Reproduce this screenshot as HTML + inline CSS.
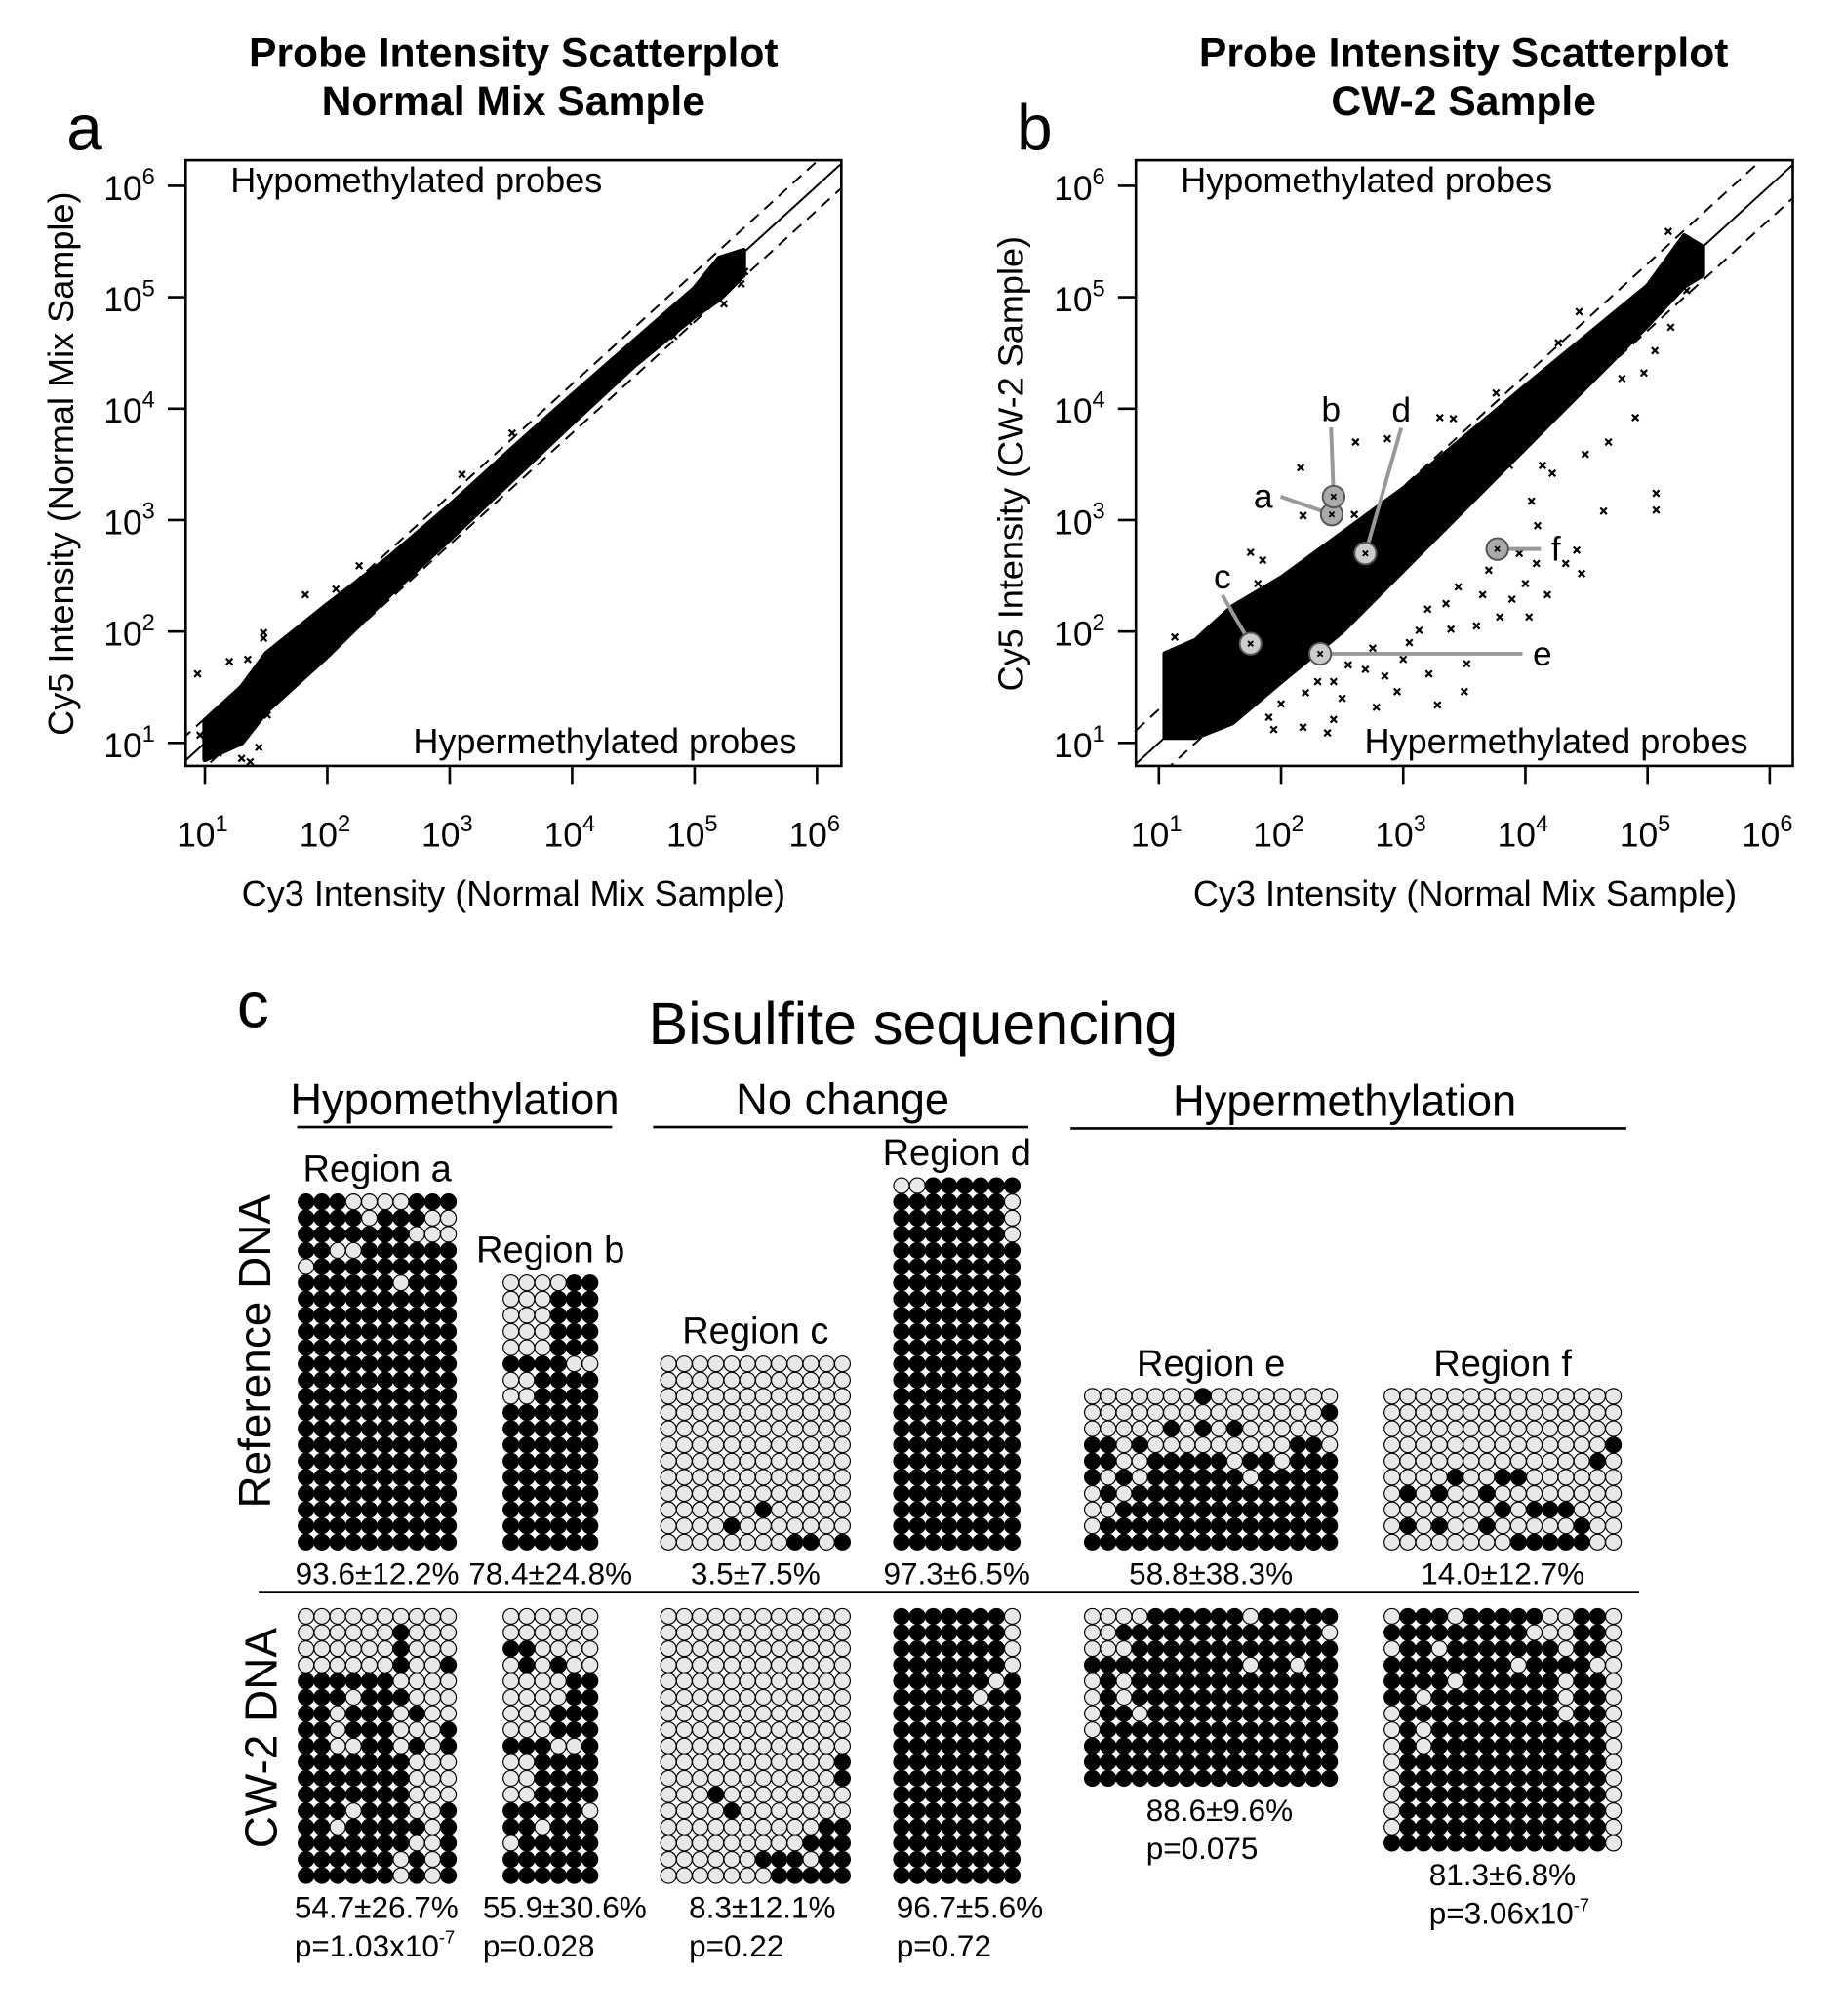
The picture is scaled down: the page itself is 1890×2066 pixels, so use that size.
<!DOCTYPE html>
<html><head><meta charset="utf-8"><style>
html,body{margin:0;padding:0;background:#fff;}
svg{display:block;font-family:"Liberation Sans",Arial,sans-serif;}
</style></head><body>
<svg id="fig" width="1890" height="2066" viewBox="0 0 1440 1574" xmlns="http://www.w3.org/2000/svg">
<defs>
<clipPath id="clipA"><rect x="145" y="125" width="512" height="473"/></clipPath>
<clipPath id="clipB"><rect x="887" y="125" width="513" height="473"/></clipPath>
</defs>
<g>
<text x="401" y="52" font-size="32.5" font-weight="bold" text-anchor="middle">Probe Intensity Scatterplot</text>
<text x="401" y="90" font-size="32.5" font-weight="bold" text-anchor="middle">Normal Mix Sample</text>
<text x="52" y="117" font-size="50">a</text>
<text x="401" y="707" font-size="27.5" text-anchor="middle">Cy3 Intensity (Normal Mix Sample)</text>
<text transform="translate(57,362) rotate(-90)" font-size="27.5" text-anchor="middle">Cy5 Intensity (Normal Mix Sample)</text>
<g id="plotA" clip-path="url(#clipA)"></g>
<g id="axesA"></g>
<text x="180" y="150" font-size="27.5">Hypomethylated probes</text>
<text x="622" y="588" font-size="27.5" text-anchor="end">Hypermethylated probes</text>
</g>
<g>
<text x="1143" y="52" font-size="32.5" font-weight="bold" text-anchor="middle">Probe Intensity Scatterplot</text>
<text x="1143" y="90" font-size="32.5" font-weight="bold" text-anchor="middle">CW-2 Sample</text>
<text x="794" y="117" font-size="50">b</text>
<text x="1144" y="707" font-size="27.5" text-anchor="middle">Cy3 Intensity (Normal Mix Sample)</text>
<text transform="translate(799,362) rotate(-90)" font-size="27.5" text-anchor="middle">Cy5 Intensity (CW-2 Sample)</text>
<g id="plotB" clip-path="url(#clipB)"></g>
<g id="axesB"></g>
<g id="annB"></g>
<text x="922" y="150" font-size="27.5">Hypomethylated probes</text>
<text x="1365" y="588" font-size="27.5" text-anchor="end">Hypermethylated probes</text>
</g>
<g>
<text x="185" y="802" font-size="50">c</text>
<text x="713" y="815" font-size="46.5" text-anchor="middle">Bisulfite sequencing</text>
<text x="355" y="870" font-size="34.5" text-anchor="middle">Hypomethylation</text>
<line x1="232" y1="880" x2="478" y2="880" stroke="#000" stroke-width="2"/>
<text x="658" y="870" font-size="34.5" text-anchor="middle">No change</text>
<line x1="510" y1="880" x2="803" y2="880" stroke="#000" stroke-width="2"/>
<text x="1050" y="871" font-size="34.5" text-anchor="middle">Hypermethylation</text>
<line x1="836" y1="881" x2="1270" y2="881" stroke="#000" stroke-width="2"/>
<text transform="translate(211,1055) rotate(-90)" font-size="35" text-anchor="middle">Reference DNA</text>
<text transform="translate(216,1357) rotate(-90)" font-size="35" text-anchor="middle">CW-2 DNA</text>
<line x1="202" y1="1243" x2="1280" y2="1243" stroke="#000" stroke-width="2"/>
<g id="grids"></g>
<g id="gridText" font-size="24"></g>
</g>
</svg>
<script>
// ---------- Panel a data (log10 space) ----------
const aBandX = [1.0,1.3,1.5,2.0,2.5,3.0,3.5,4.0,4.5,5.0,5.2,5.4];
const aBandHi = [1.2,1.5,1.8,2.24,2.66,3.13,3.63,4.12,4.6,5.08,5.35,5.42];
const aBandLo = [0.85,1.0,1.28,1.78,2.32,2.83,3.35,3.87,4.38,4.83,4.98,5.2];
const aOutX = [0.94,1.48,1.48,1.82,1.20,1.35,0.96,1.11,1.30,1.37,1.44,1.24,1.18,1.06,1.39,1.51,5.41,5.24,5.38,4.95,4.83,3.51,3.10,2.26,2.07,1.02,1.08,1.15,1.26,1.33];
const aOutY = [1.62,1.99,1.94,2.33,1.73,1.75,1.07,0.91,0.86,0.83,0.96,1.04,1.17,0.99,1.33,1.25,5.23,4.94,5.12,4.78,4.65,3.78,3.41,2.59,2.38,1.15,1.22,0.95,1.30,1.12];
// ---------- Panel b data ----------
const bBandX = [1.05,1.3,1.6,2.0,2.5,3.0,3.5,4.0,4.5,5.0,5.3,5.45];
const bBandHi = [1.8,1.92,2.22,2.48,2.88,3.28,3.74,4.2,4.65,5.1,5.55,5.45];
const bBandLo = [1.05,1.05,1.18,1.55,2.0,2.55,3.1,3.65,4.2,4.75,5.1,5.2];
const bOutX = [2.16,2.61,2.87,5.07,5.07,4.64,4.90,4.68,4.49,4.09,4.33,4.46,4.42,4.18,4.00,3.89,4.03,3.79,3.52,3.50,3.28,3.21,2.95,2.78,2.43,2.38,2.18,1.94,1.90,2.43,2.69,3.13,3.39,3.65,4.05,3.87,4.14,4.22,4.97,4.79,5.06,5.19,5.32,5.17,1.13,1.75,1.85,1.81,2.18,2.60,3.30,3.41,3.76,4.27,4.44,2.30,2.55,2.75,3.00,3.20,3.45,3.60,3.70,3.95,4.10,2.00,2.20,2.50,2.85,3.05,3.35];
const bOutY = [3.47,3.70,3.73,3.24,3.09,3.08,3.92,3.70,3.59,2.61,2.61,2.52,2.73,2.33,2.43,2.29,2.13,2.13,1.71,1.46,1.34,1.62,1.46,1.32,1.21,1.09,1.14,1.12,1.23,1.55,1.66,2.01,2.02,2.33,3.17,3.49,3.49,3.42,4.32,4.27,4.52,4.73,5.06,5.59,1.95,2.71,2.64,2.43,3.04,3.05,3.92,3.91,4.14,4.59,4.87,1.55,1.70,1.85,1.75,2.20,2.40,2.05,2.55,2.70,2.95,1.35,1.45,1.40,1.60,1.90,2.25];
const bRegionNames = ["a","b","c","d","e","f"];
const bRegionX = [2.415,2.43,1.75,2.69,2.32,3.77];
const bRegionY = [3.05,3.21,1.89,2.70,1.80,2.74];
const tickExp = [1,2,3,4,5,6];

// ---------- Bisulfite grid data ----------
const refA = ["1110000111","1111011100","1111111000","1100111111","0111111111","1111110111"].concat(Array(16).fill("1111111111"));
const refB = ["000011","000111","000111","000111","000111","111100","001111","001111"].concat(Array(9).fill("111111"));
const refC = Array(9).fill("000000000000").concat(["000000100000","000010000000","000000001101"]);
const refD = ["00111111","11111110","11111110","11111110"].concat(Array(19).fill("11111111"));
const refE = ["0000000100000000","0000000000000001","0000010101000000","1101000000000110","1100111110110111","1010111111011111","0101111111111111","0011111111111111","0111111111111111","1111111111111111"];
const refF = ["000000000000000","000000000000000","000000000000000","000000000000001","000000000000010","000010011000000","010100100000000","000000010111000","010100100000100","000000001111100"];
const cwA = ["0000000000","0000001000","0000001000","0000001001","1111110000","1110111000","1101110100","1101110001","1100110101","1111111000","1111111000","1111111000","1110111001","1101111101","1111111001","1111110101","1111110101"];
const cwB = ["000000","000000","110000","010100","000011","000011","000111","000111","111001","001111","001111","001111","111110","110111","011111","111111","111111"];
const cwC = Array(9).fill("000000000000").concat(["000000000001","000000000001","000100000000","000010000000","000000000011","000000000111","000000111011","000000011111"]);
const cwD = ["11111110","11111110","11111110","11111110","11111101","11111011"].concat(Array(11).fill("11111111"));
const cwE = ["0000111111011111","0011111111111110","0001111111111111","1111111111011011","0101111111111111","0101111111111111","0110111111111111","0111111111111111","1111111111111111","1111111111111111","1111111111111111"];
const cwF = ["011101111100110","111111111000110","011011111110110","111111110111100","111101111110110","110111111110110","011111111110110","010111111111110","010111111111110","011111111111110","011111111111110","011111111111110","011111111111110","011111111111110","111111111111110"];
const refPct = ["93.6±12.2%","78.4±24.8%","3.5±7.5%","97.3±6.5%","58.8±38.3%","14.0±12.7%"];
const cwPct = ["54.7±26.7%","55.9±30.6%","8.3±12.1%","96.7±5.6%","88.6±9.6%","81.3±6.8%"];
const cwP = ["p=1.03x10","p=0.028","p=0.22","p=0.72","p=0.075","p=3.06x10"];
const regionLabels = ["Region a","Region b","Region c","Region d","Region e","Region f"];

const NS = "http://www.w3.org/2000/svg";
function mk(tag, attrs, parent){const e=document.createElementNS(NS,tag);for(const k in attrs)e.setAttribute(k,attrs[k]);parent.appendChild(e);return e;}

function drawScatter(p){
  const g=document.getElementById(p.plotId), ax=document.getElementById(p.axesId);
  const X=v=>p.x0+(v-1)*p.xs, Y=v=>580-(v-1)*87;
  let pts=[];
  for(let i=0;i<p.bx.length;i++)pts.push(X(p.bx[i])+","+Y(p.hi[i]));
  for(let i=p.bx.length-1;i>=0;i--)pts.push(X(p.bx[i])+","+Y(p.lo[i]));
  const band=mk("polygon",{points:pts.join(" "),fill:"#000",stroke:"#000","stroke-width":4,"stroke-linejoin":"round"},g);
  
  
  for(let i=0;i<p.ox.length;i++){
    const cx=X(p.ox[i]), cy=Y(p.oy[i]);
    const m=mk("path",{d:`M${cx-2.5},${cy-2.5}L${cx+2.5},${cy+2.5}M${cx-2.5},${cy+2.5}L${cx+2.5},${cy-2.5}`,stroke:"#000","stroke-width":1.7},g);
    
    
  }
  const lo=0, hi=7;
  const d=mk("line",{x1:X(lo),y1:Y(lo),x2:X(hi),y2:Y(hi),stroke:"#000","stroke-width":1.5},g);
  
  
  [p.off,-p.off].forEach(o=>{
    const l=mk("line",{x1:X(lo),y1:Y(lo+o),x2:X(hi),y2:Y(hi+o),stroke:"#000","stroke-width":1.5,"stroke-dasharray":"9,6"},g);
    
    
  });
  const box=mk("rect",{x:p.bx0,y:125,width:p.bw,height:473,fill:"none",stroke:"#000","stroke-width":2},ax);
  
  
  tickExp.forEach(e=>{
    const tx=X(e);
    const t=mk("line",{x1:tx,y1:598,x2:tx,y2:612,stroke:"#000","stroke-width":2},ax);
    
    
    const lb=mk("text",{x:tx-2,y:661,"font-size":27,"text-anchor":"middle"},ax);
    
    
    lb.innerHTML=`10<tspan dy="-12" font-size="18">${e}</tspan>`;
    const ty=Y(e);
    const t2=mk("line",{x1:p.bx0-14,y1:ty,x2:p.bx0,y2:ty,stroke:"#000","stroke-width":2},ax);
    
    
    const lb2=mk("text",{x:p.bx0-24,y:ty+11,"font-size":27,"text-anchor":"end"},ax);
    
    
    lb2.innerHTML=`10<tspan dy="-12" font-size="18">${e}</tspan>`;
  });
  return {X,Y};
}
drawScatter({name:"panel-a",plotId:"plotA",axesId:"axesA",x0:160,xs:95.6,bx0:145,bw:512,bx:aBandX,hi:aBandHi,lo:aBandLo,ox:aOutX,oy:aOutY,off:0.22});
const sb=drawScatter({name:"panel-b",plotId:"plotB",axesId:"axesB",x0:905,xs:95.4,bx0:887,bw:513,bx:bBandX,hi:bBandHi,lo:bBandLo,ox:bOutX,oy:bOutY,off:0.3});

const annOffX=[-40,-2,-22,28,158,34];
const annOffY=[-14,-68,-52,-112,0,0];
const annG=document.getElementById("annB");
bRegionNames.forEach((n,i)=>{
  const cx=sb.X(bRegionX[i]), cy=sb.Y(bRegionY[i]);
  const lx=cx+annOffX[i], ly=cy+annOffY[i];
  const ln=mk("line",{x1:cx,y1:cy,x2:lx,y2:ly+(annOffY[i]<-20?14:0),stroke:"#999","stroke-width":3},annG);
  
  
  const c=mk("circle",{cx:cx,cy:cy,r:8.5,fill:i==5||i==0||i==1?"#aaa":"#ccc",stroke:"#555","stroke-width":1.5},annG);
  
  
  const x=mk("path",{d:`M${cx-2},${cy-2}L${cx+2},${cy+2}M${cx-2},${cy+2}L${cx+2},${cy-2}`,stroke:"#000","stroke-width":1.4},annG);
  
  
  const t=mk("text",{x:lx+(annOffX[i]<0&&annOffY[i]>-20?-6:0)+(annOffY[i]===0?8:0),y:ly+9,"font-size":27,"text-anchor":annOffY[i]===0?"start":(annOffX[i]<-30?"end":"middle")},annG);
  
  
  t.textContent=n;
});

const gridsG=document.getElementById("grids"), txtG=document.getElementById("gridText");
const DX=12.35, DY=12.65, R=6.1;
const colX=[239,399,522,704,853,1087];
function drawGrid(rows,x0,yTop,name){
  rows.forEach((row,r)=>{
    for(let c=0;c<row.length;c++){
      const on=row[c]==="1";
      const e=mk("circle",{cx:x0+c*DX,cy:yTop+r*DY,r:R,fill:on?"#000":"#e8e8e8",stroke:"#000","stroke-width":0.9},gridsG);
      
      
    }
  });
}
const refGrids=[refA,refB,refC,refD,refE,refF], cwGrids=[cwA,cwB,cwC,cwD,cwE,cwF];
refGrids.forEach((g,i)=>{
  const top=1204-(g.length-1)*DY;
  drawGrid(g,colX[i],top,'reference-region-'+bRegionNames[i]);
  const w=(g[0].length-1)*DX, cx=colX[i]+w/2;
  const lb=mk("text",{x:cx,y:top-16,"font-size":29,"text-anchor":"middle"},txtG);
  
  
  lb.textContent=regionLabels[i];
  const pc=mk("text",{x:cx,y:1237,"font-size":24,"text-anchor":"middle"},txtG);
  
  
  pc.textContent=refPct[i];
});
const cwTxtX=[230,377,538,700,895,1116];
cwGrids.forEach((g,i)=>{
  drawGrid(g,colX[i],1262,'cw2-region-'+bRegionNames[i]);
  const bottom=1262+(g.length-1)*DY;
  const pc=mk("text",{x:cwTxtX[i],y:bottom+33,"font-size":24},txtG);
  
  
  pc.textContent=cwPct[i];
  const pv=mk("text",{x:cwTxtX[i],y:bottom+63,"font-size":24},txtG);
  
  
  if(cwP[i].endsWith("x10")) pv.innerHTML=cwP[i]+'<tspan dy="-10" font-size="14">-7</tspan>';
  else pv.textContent=cwP[i];
});
</script>
</body></html>
